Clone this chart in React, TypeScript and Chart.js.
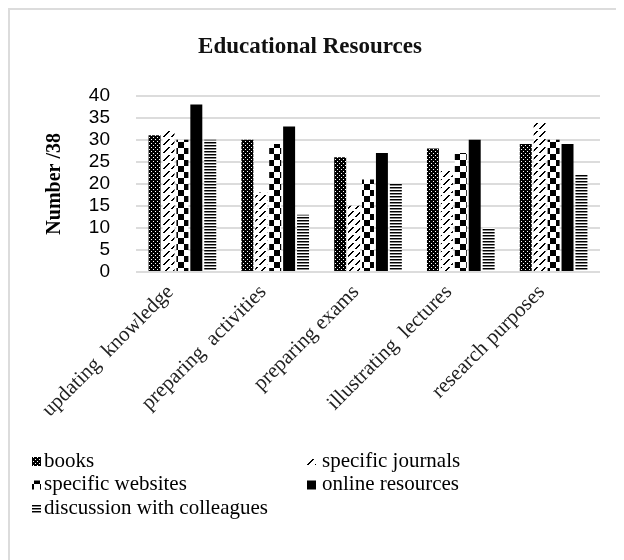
import React, { useEffect, useRef } from "react";
import { Chart, registerables } from "chart.js";
Chart.register(...registerables);

const categories = [
  "updating  knowledge",
  "preparing  activities",
  "preparing exams",
  "illustrating  lectures",
  "research purposes",
];
const seriesNames = [
  "books",
  "specific journals",
  "specific websites",
  "online resources",
  "discussion with colleagues",
];
const books = [31, 30, 26, 28, 29];
const journals = [32, 18, 15, 23, 34];
const websites = [30, 29, 21, 27, 30];
const online = [38, 33, 27, 30, 29];
const discussion = [30, 13, 20, 10, 22];
const yMax = 40;
const yStep = 5;

function makePattern(kind: string): CanvasPattern | string {
  const c = document.createElement("canvas");
  const x = c.getContext("2d")!;
  if (kind === "books") {
    c.width = 4; c.height = 4;
    x.fillStyle = "#000"; x.fillRect(0, 0, 4, 4);
    x.fillStyle = "#fff"; x.fillRect(1, 1, 1, 1); x.fillRect(3, 3, 1, 1);
  } else if (kind === "journals") {
    c.width = 8; c.height = 8;
    x.fillStyle = "#fff"; x.fillRect(0, 0, 8, 8);
    x.fillStyle = "#000";
    for (let i = 0; i < 6; i++) { x.fillRect(1 + i, 6 - i, 2, 1); }
  } else if (kind === "websites") {
    c.width = 12; c.height = 12;
    x.fillStyle = "#fff"; x.fillRect(0, 0, 12, 12);
    x.fillStyle = "#000"; x.fillRect(0, 0, 6, 6); x.fillRect(6, 6, 6, 6);
  } else if (kind === "discussion") {
    c.width = 4; c.height = 3;
    x.fillStyle = "#fff"; x.fillRect(0, 0, 4, 3);
    x.fillStyle = "#000"; x.fillRect(0, 0, 4, 1);
    x.fillStyle = "#888"; x.fillRect(0, 1, 4, 1);
  } else {
    return "#000";
  }
  return x.createPattern(c, "repeat")!;
}

const legendPlugin = {
  id: "gridLegend",
  afterDraw(chart: any) {
    const ctx = chart.ctx as CanvasRenderingContext2D;
    ctx.save();
    chart.data.datasets.forEach((ds: any, i: number) => {
      const col = i % 2;
      const row = Math.floor(i / 2);
      const bx = col === 0 ? 22 : 297;
      const tx = col === 0 ? 34 : 312;
      const cy = 451 + row * 23.5;
      ctx.fillStyle = ds.backgroundColor;
      ctx.fillRect(bx, cy - 4, 9, 9);
      ctx.fillStyle = "#000";
      ctx.font = "21px 'Liberation Serif'";
      ctx.textBaseline = "middle";
      ctx.textAlign = "left";
      ctx.fillText(ds.label, tx, cy);
    });
    ctx.restore();
  },
};

export default function App() {
  const ref = useRef<HTMLCanvasElement>(null);
  useEffect(() => {
    const pats = ["books", "journals", "websites", "online", "discussion"].map(makePattern);
    const values = [books, journals, websites, online, discussion];
    const chart = new Chart(ref.current!, {
      type: "bar",
      data: {
        labels: categories,
        datasets: seriesNames.map((n, i) => ({
          label: n,
          data: values[i],
          backgroundColor: pats[i] as any,
          borderWidth: 0,
          categoryPercentage: 0.75,
          barPercentage: 0.86,
        })),
      },
      options: {
        animation: false,
        responsive: false,
        layout: { padding: { left: 10, right: 24, top: 0, bottom: 128 } },
        plugins: {
          legend: { display: false },
          tooltip: { enabled: false },
          title: {
            display: true,
            text: "Educational Resources",
            color: "#111",
            font: { family: "'Liberation Serif'", size: 23, weight: "bold" },
            padding: { top: 23, bottom: 35 },
          },
        },
        scales: {
          x: {
            grid: { display: false },
            border: { display: false },
            afterFit: (s: any) => { s.height = 160; },
            ticks: {
              color: "#222",
              font: { family: "'Liberation Serif'", size: 21 },
              minRotation: 45,
              maxRotation: 45,
              padding: 0,
              labelOffset: -12,
            },
          },
          y: {
            min: 0,
            max: yMax,
            afterFit: (s: any) => { s.width = 116; },
            border: { display: false },
            grid: { color: "#dcdcdc", lineWidth: 2, drawTicks: false },
            ticks: {
              stepSize: yStep,
              autoSkip: false,
              color: "#000",
              padding: 26,
              font: { family: "'Liberation Sans'", size: 19 },
            },
            title: {
              display: true,
              text: "Number /38",
              color: "#000",
              font: { family: "'Liberation Serif'", size: 20, weight: "bold" },
              padding: { top: 23, bottom: 0 },
            },
          },
        },
      },
      plugins: [legendPlugin],
    });
    return () => chart.destroy();
  }, []);
  return (
    <div style={{ borderTop: "2px solid #dcdcdc", borderLeft: "2px solid #dcdcdc", width: 614, height: 550 }}>
      <canvas ref={ref} width={614} height={550} style={{ display: "block" }} />
    </div>
  );
}
